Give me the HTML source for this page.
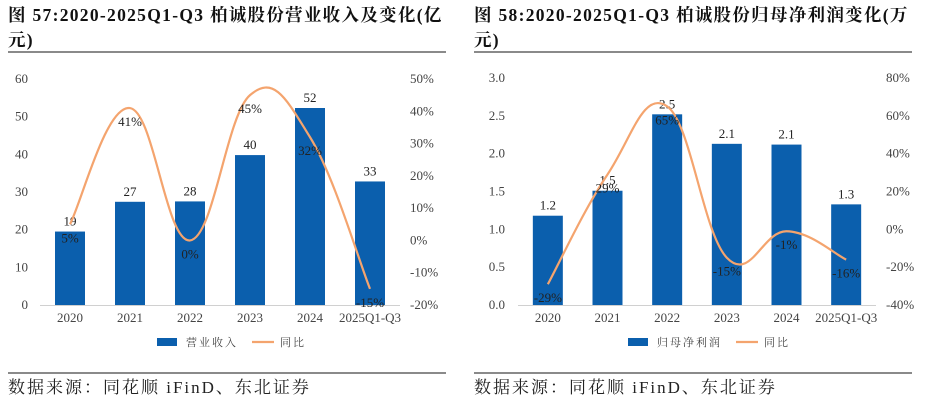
<!DOCTYPE html>
<html><head><meta charset="utf-8">
<style>
html,body{margin:0;padding:0;background:#fff;}
svg{display:block;}
.title{font-family:"Liberation Serif","Noto Serif CJK SC",serif;font-weight:bold;font-size:17.5px;letter-spacing:1.3px;fill:#111;}
.foot{font-family:"Liberation Serif","Noto Serif CJK SC",serif;font-size:17px;letter-spacing:2px;fill:#222;}
.tick{font-family:"Liberation Serif","Noto Serif CJK SC",serif;font-size:13px;fill:#444;}
.lbl{font-family:"Liberation Serif","Noto Serif CJK SC",serif;font-size:13px;fill:#222;}
.leg{font-family:"Liberation Serif","Noto Serif CJK SC",serif;font-size:11px;fill:#444;letter-spacing:2px;}
</style></head>
<body>
<svg id="root" width="933" height="402" viewBox="0 0 933 402" xmlns="http://www.w3.org/2000/svg">
<text class="title" x="8" y="21">图 57:2020-2025Q1-Q3 柏诚股份营业收入及变化(亿</text>
<text class="title" x="8" y="46">元)</text>
<line x1="8" y1="52" x2="446" y2="52" stroke="#444" stroke-width="1.2"/>
<text class="title" x="474" y="21">图 58:2020-2025Q1-Q3 柏诚股份归母净利润变化(万</text>
<text class="title" x="474" y="46">元)</text>
<line x1="474" y1="52" x2="912" y2="52" stroke="#444" stroke-width="1.2"/>
<line x1="8" y1="373" x2="446" y2="373" stroke="#444" stroke-width="1.2"/>
<text class="foot" x="8" y="393">数据来源：同花顺 iFinD、东北证券</text>
<line x1="474" y1="373" x2="912" y2="373" stroke="#444" stroke-width="1.2"/>
<text class="foot" x="474" y="393">数据来源：同花顺 iFinD、东北证券</text>
<g id="c1"></g>
<g id="c2"></g>
</svg>
<script>
const categories = ["2020","2021","2022","2023","2024","2025Q1-Q3"];
const revenue = [19.5,27.4,27.5,39.8,52.3,32.8];
const revenueLabels = ["19","27","28","40","52","33"];
const revenueYoy = [5,41,0,45,32,-15];
const revLeftTicks = [0,10,20,30,40,50,60];
const revRightTicks = [-20,-10,0,10,20,30,40,50];
const profit = [1.18,1.51,2.52,2.13,2.12,1.33];
const profitLabels = ["1.2","1.5","2.5","2.1","2.1","1.3"];
const profitYoy = [-29,29,65,-15,-1,-16];
const profLeftTicks = [0,0.5,1.0,1.5,2.0,2.5,3.0];
const profRightTicks = [-40,-20,0,20,40,60,80];

const NS="http://www.w3.org/2000/svg";
function mk(parent,tag,attrs,text){const e=document.createElementNS(NS,tag);for(const k in attrs)e.setAttribute(k,attrs[k]);if(text!==undefined)e.textContent=text;parent.appendChild(e);return e;}

function drawChart(g,cfg){
  const {x0,x1,yTop,yBot,lMin,lMax,rMin,rMax,vals,valLabels,yoy,lTicks,rTicks,lDec,lx,rx,legName,legX,prefix}=cfg;
  const n=categories.length, step=(x1-x0)/n;
  const xs=i=>x0+step*(i+0.5);
  const yl=v=>yBot-(v-lMin)/(lMax-lMin)*(yBot-yTop);
  const yr=v=>yBot-(v-rMin)/(rMax-rMin)*(yBot-yTop);
  lTicks.forEach(t=>{
    const e=mk(g,"text",{class:"tick",x:lx,y:yl(t)+4,"text-anchor":"end"},t.toFixed(lDec));
    
    
  });
  rTicks.forEach(t=>{
    const e=mk(g,"text",{class:"tick",x:rx,y:yr(t)+4,"text-anchor":"start"},t+"%");
    
    
  });
  vals.forEach((v,i)=>{
    const b=mk(g,"rect",{x:xs(i)-15,y:yl(v),width:30,height:yBot-yl(v),fill:"#0b5fad"});
    
    
    const t=mk(g,"text",{class:"lbl",x:xs(i),y:yl(v)-6,"text-anchor":"middle"},valLabels[i]);
    
    
  });
  const ax=mk(g,"line",{x1:x0,y1:yBot+0.5,x2:x1,y2:yBot+0.5,stroke:"#d0d0d0","stroke-width":1});
  
  
  categories.forEach((c,i)=>{
    const t=mk(g,"text",{class:"tick",x:xs(i),y:yBot+17,"text-anchor":"middle"},c);
    
    
  });
  const pts=yoy.map((v,i)=>[xs(i),yr(v)]);
  let d="M"+pts[0][0]+","+pts[0][1];
  for(let i=0;i<pts.length-1;i++){
    const p0=pts[Math.max(0,i-1)],p1=pts[i],p2=pts[i+1],p3=pts[Math.min(pts.length-1,i+2)];
    const k=1/5;
    const c1=[p1[0]+(p2[0]-p0[0])*k,p1[1]+(p2[1]-p0[1])*k];
    const c2=[p2[0]-(p3[0]-p1[0])*k,p2[1]-(p3[1]-p1[1])*k];
    d+=" C"+c1[0]+","+c1[1]+" "+c2[0]+","+c2[1]+" "+p2[0]+","+p2[1];
  }
  const line=mk(g,"path",{d:d,fill:"none",stroke:"#f4a46e","stroke-width":2.2});
  
  
  yoy.forEach((v,i)=>{
    const t=mk(g,"text",{class:"lbl",x:xs(i),y:yr(v)+18,"text-anchor":"middle"},v+"%");
    
    
  });
  const ly=342;
  const lb=mk(g,"rect",{x:legX,y:ly-4,width:20,height:8,fill:"#0b5fad"});
  
  
  const lt=mk(g,"text",{class:"leg",x:legX+29,y:ly+4},legName);
  
  
  const lw=legX+29+legName.length*13+14;
  const ll=mk(g,"line",{x1:lw,y1:ly,x2:lw+22,y2:ly,stroke:"#f4a46e","stroke-width":2.2});
  
  
  const l2=mk(g,"text",{class:"leg",x:lw+28,y:ly+4},"同比");
  
  
}
drawChart(document.getElementById("c1"),{x0:40,x1:400,yTop:79,yBot:305,lMin:0,lMax:60,rMin:-20,rMax:50,vals:revenue,valLabels:revenueLabels,yoy:revenueYoy,lTicks:revLeftTicks,rTicks:revRightTicks,lDec:0,lx:28,rx:410,legName:"营业收入",legX:157,prefix:"revenue"});
drawChart(document.getElementById("c2"),{x0:518,x1:876,yTop:78,yBot:305,lMin:0,lMax:3,rMin:-40,rMax:80,vals:profit,valLabels:profitLabels,yoy:profitYoy,lTicks:profLeftTicks,rTicks:profRightTicks,lDec:1,lx:505,rx:886,legName:"归母净利润",legX:628,prefix:"profit"});
</script>
</body></html>
